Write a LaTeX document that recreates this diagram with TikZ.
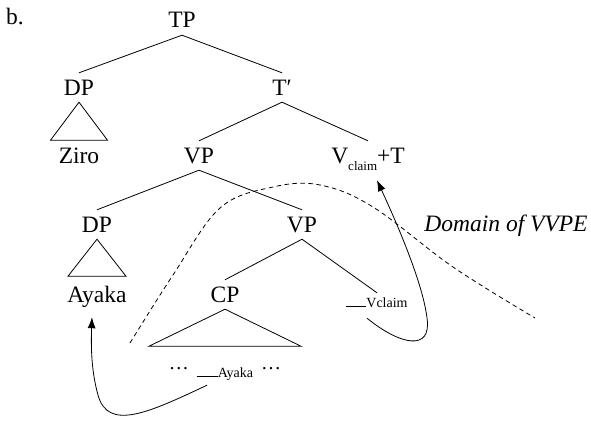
\documentclass[tikz,border=0pt]{standalone}
\usepackage{fontspec}
\setmainfont{Liberation Serif}
\usetikzlibrary{arrows.meta}
\begin{document}
\begin{tikzpicture}[x=1pt,y=-1pt,
  lab/.style={font=\fontsize{23.5}{26}\selectfont, anchor=base, text height=15pt, text depth=0pt, inner xsep=0pt, inner ysep=7pt},
  small/.style={font=\fontsize{14}{16}\selectfont, anchor=base, text height=10pt, text depth=0pt, inner xsep=0pt, inner ysep=7pt},
  branch/.style={line width=0.8pt},
  tri/.style={line width=0.8pt},
  mv/.style={line width=0.8pt, -{Latex[length=11pt,width=8pt]}},
  domline/.style={line width=0.8pt, dash pattern=on 4.5pt off 3.5pt}
]
\useasboundingbox (0,0) rectangle (591,420);
\node[lab] (b) at (15,25) {b.};
\node[lab] (TP) at (182,28) {TP};
\node[lab] (DPa) at (79,95) {DP};
\node[lab] (Tbar) at (282,95) {T′};
\node[lab] (Ziro) at (79,163) {Ziro};
\node[lab] (VPa) at (199,163) {VP};
\node[lab] (VT) at (368,163) {V\raisebox{-7pt}{\fontsize{13}{13}\selectfont claim}+T};
\node[lab] (DPb) at (97,232) {DP};
\node[lab] (VPb) at (302,232) {VP};
\node[lab] (Ayaka) at (97,302) {Ayaka};
\node[lab] (CP) at (225,302) {CP};
\node[small] (vtr) at (377,307) {\rule{20pt}{0.6pt}Vclaim};
\node[small] (atr) at (225,377) {\raisebox{8pt}{\fontsize{20}{20}\selectfont …}\hspace{8pt}\rule{21pt}{0.6pt}Ayaka\hspace{8pt}\raisebox{8pt}{\fontsize{20}{20}\selectfont …}};
\node[lab, font=\fontsize{23.5}{26}\selectfont\itshape] (dom) at (506,231) {Domain of VVPE};

% branches
\draw[branch] (TP.south) -- (DPa.north);
\draw[branch] (TP.south) -- (Tbar.north);
\draw[branch] (Tbar.south) -- (VPa.north);
\draw[branch] (Tbar.south) -- (VT.north);
\draw[branch] (VPa.south) -- (DPb.north);
\draw[branch] (VPa.south) -- (VPb.north);
\draw[branch] (VPb.south) -- (CP.north);
\draw[branch] (VPb.south) -- ([yshift=-3pt]vtr.north);

% triangles
\draw[tri] (DPa.south) -- ++(-28.5,38) -- ++(57,0) -- cycle;
\draw[tri] (DPb.south) -- ++(-29,37) -- ++(58,0) -- cycle;
\draw[tri] (CP.south) -- ++(-76,37) -- ++(152,0) -- cycle;

% domain boundary
\draw[domline] plot[smooth, tension=0.6] coordinates {(130,343) (173,275) (220,208) (273,187) (320,185) (373,207) (453,267) (535,318)};

% movement arrows
\draw[mv] ([xshift=-10pt,yshift=-4pt]vtr.south) .. controls (400,345) and (432,352) .. (427,318)
   .. controls (423,285) and (400,230) .. ([xshift=9pt,yshift=-10pt]VT.south);
\draw[mv] ([xshift=-18pt,yshift=-1pt]atr.south) .. controls (150,412) and (108,432) .. (98,395)
   .. controls (91,370) and (91,345) .. ([xshift=-5pt,yshift=-8pt]Ayaka.south);
\end{tikzpicture}
\end{document}
